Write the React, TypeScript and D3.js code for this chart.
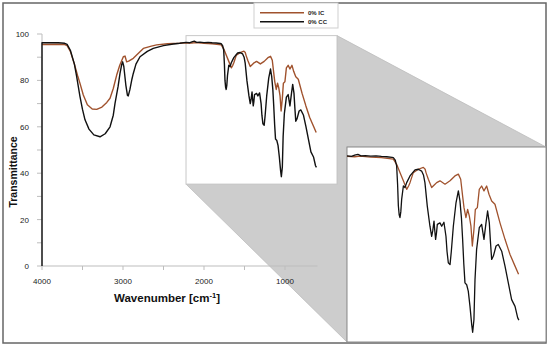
import React from "react";
import * as d3 from "d3";

// ---- data ----
const seriesNames = ["0% IC", "0% CC"];
const seriesColors = ["#a0522d", "#111111"];

const icWn = [4000, 3800, 3720, 3690, 3650, 3600, 3560, 3531, 3490, 3440, 3380, 3325, 3260, 3200, 3160, 3120, 3078, 3040, 2996, 2975, 2955, 2930, 2873, 2800, 2749, 2650, 2585, 2450, 2300, 2222, 2150, 2100, 2000, 1900, 1788, 1757, 1726, 1694, 1663, 1645, 1632, 1601, 1554, 1507, 1490, 1482, 1460, 1429, 1400, 1382, 1351, 1304, 1257, 1211, 1179, 1157, 1139, 1126, 1108, 1092, 1076, 1061, 1048, 1033, 1020, 1001, 983, 961, 939, 914, 892, 867, 836, 789, 742, 695, 648, 615];
const icT = [95.5, 95.6, 95.4, 95, 92.5, 87, 82, 78.7, 73.7, 69.5, 67.7, 67.5, 68.5, 70.5, 72.3, 76.5, 82.3, 86.5, 90.2, 90.5, 88, 88.3, 89.5, 92, 93.8, 94.8, 95.3, 95.8, 96, 96.2, 96.1, 96.3, 96, 95.8, 95.3, 93.6, 90.9, 88.2, 85.4, 86.5, 87.6, 90.9, 92, 92.6, 92, 90.9, 88.7, 86, 87, 87.6, 88.2, 87.1, 88.2, 89.8, 90.4, 88.7, 83.2, 79.4, 76.1, 78.8, 76.6, 73.3, 66.8, 72.2, 78.8, 79.4, 85.4, 86.5, 84.9, 86.5, 83.8, 81.6, 80.5, 74.4, 69, 64, 60.2, 57.5];

const ccWn = [4000, 4000, 3800, 3720, 3690, 3650, 3600, 3572, 3531, 3500, 3469, 3420, 3360, 3284, 3220, 3160, 3120, 3099, 3060, 3037, 3015, 3004, 2990, 2965, 2945, 2935, 2915, 2890, 2873, 2840, 2790, 2700, 2626, 2500, 2379, 2300, 2222, 2180, 2150, 2120, 2090, 2050, 2000, 1950, 1900, 1850, 1800, 1788, 1770, 1757, 1748, 1741, 1733, 1726, 1718, 1710, 1694, 1679, 1663, 1632, 1585, 1554, 1523, 1505, 1492, 1470, 1445, 1429, 1418, 1407, 1400, 1392, 1384, 1376, 1351, 1335, 1314, 1295, 1285, 1273, 1257, 1245, 1226, 1201, 1179, 1164, 1150, 1139, 1128, 1117, 1101, 1086, 1070, 1054, 1045, 1033, 1023, 1008, 983, 961, 939, 920, 905, 889, 878, 867, 851, 826, 805, 773, 742, 711, 680, 648, 623, 612];
const ccT = [0, 96.2, 96.2, 96, 95.5, 93, 87, 81.6, 73, 67.5, 63, 59, 56.5, 55.7, 57, 60, 65, 70, 77.5, 83, 87, 88, 86, 78, 73.5, 73.3, 76, 80.5, 83, 87, 90.2, 92.5, 93.8, 95, 95.7, 96, 96.4, 96.2, 96.6, 96.9, 96.4, 96.5, 96.3, 96.4, 96.2, 96.1, 95.9, 95.8, 95, 93.1, 87, 80, 77, 76.1, 78, 82.1, 86.5, 86, 87.6, 89.8, 91.8, 92, 91.4, 90, 87.6, 79.9, 73.3, 70, 72, 75, 72, 69, 71, 73.9, 74.4, 73.3, 74.6, 70, 65, 61.3, 60.7, 65, 73.3, 81, 84.9, 81.6, 76, 69, 61, 54.7, 54.1, 52, 47, 41, 38.5, 42.6, 55.8, 65.7, 72.8, 73.9, 69, 74.4, 78.3, 74.4, 68, 62.4, 63.5, 66.8, 67.3, 65.1, 60.2, 54.7, 49.2, 47, 43.2, 42.5];

const xTicks = [4000, 3500, 3000, 2500, 2000, 1500, 1000];
const xTickLabels = ["4000", "3000", "2000", "1000"];
const yTicks = [0, 10, 20, 30, 40, 50, 60, 70, 80, 90, 100];
const yTickLabels = ["0", "20", "40", "60", "80", "100"];

// zoomed window (in data units)
const zoomWn = [2222, 358];
const zoomT = [99.3, 35.3];

export default function App() {
  const W = 550, H = 347;
  const x = d3.scaleLinear().domain([4000, 600]).range([42, 317.4]);
  const y = d3.scaleLinear().domain([0, 100]).range([266, 34]);
  const px = d3.scaleLinear().domain(zoomWn).range([347, 546]);
  const py = d3.scaleLinear().domain(zoomT).range([147, 342]);

  const ic = icWn.map((w, i) => [w, icT[i]] as [number, number]);
  const cc = ccWn.map((w, i) => [w, ccT[i]] as [number, number]);
  const series = [ic, cc];

  const mainLine = d3.line<[number, number]>().x(d => x(d[0])).y(d => y(d[1]));
  const panelLine = d3.line<[number, number]>().x(d => px(d[0])).y(d => py(d[1]));

  const ix0 = x(zoomWn[0]), ix1 = x(zoomWn[1]);
  const iy0 = y(zoomT[0]), iy1 = y(zoomT[1]);
  const [pl, pr] = px.range();
  const [pt, pb] = py.range();
  const poly = [[ix1, iy0], [pr, pt], [pl, pt], [pl, pb], [ix0, iy1], [ix1, iy1]]
    .map(p => p.join(",")).join(" ");

  const font = "Arial, 'Liberation Sans', Helvetica, sans-serif";

  return (
    <svg width={W} height={H} style={{ position: "absolute", left: 0, top: 0, fontFamily: font }}>
      <defs>
        <clipPath id="panelClip">
          <rect x={pl} y={pt} width={pr - pl} height={pb - pt} />
        </clipPath>
      </defs>
      <rect x={0} y={0} width={W} height={H} fill="#fff" />
      <rect x={3} y={3} width={543} height={340} fill="#fff" stroke="#666" strokeWidth={1.5} />

      {/* projection */}
      <polygon points={poly} fill="#cdcdcd" stroke="#bdbdbd" strokeWidth={0.8} />
      {/* inset box */}
      <rect x={ix0} y={iy0} width={ix1 - ix0} height={iy1 - iy0} fill="#fff" stroke="#c8c8c8" strokeWidth={1} />

      {/* axes */}
      <line x1={x(4000)} x2={x(600)} y1={y(0)} y2={y(0)} stroke="#bdbdbd" strokeWidth={1} />
      <line x1={x(4000)} x2={x(4000)} y1={y(0)} y2={y(100)} stroke="#bdbdbd" strokeWidth={1} />
      {xTicks.map(t => (
        <line key={"xt" + t} x1={x(t)} x2={x(t)} y1={y(0)} y2={y(0) + 4} stroke="#bdbdbd" />
      ))}
      {xTickLabels.map(t => (
        <text key={"xl" + t} x={x(+t)} y={284} fontSize={8} textAnchor="middle" fill="#222">{t}</text>
      ))}
      {yTicks.map(t => (
        <line key={"yt" + t} x1={x(4000) - 5} x2={x(4000)} y1={y(t)} y2={y(t)} stroke="#bdbdbd" />
      ))}
      {yTickLabels.map(t => (
        <text key={"yl" + t} x={29} y={y(+t) + 3} fontSize={8} textAnchor="end" fill="#222">{t}</text>
      ))}
      <text x={167} y={302} fontSize={11.5} fontWeight="bold" textAnchor="middle" fill="#111">
        Wavenumber [cm<tspan dy={-4} fontSize={7.5}>-1</tspan><tspan dy={4}>]</tspan>
      </text>
      <text transform={`translate(16.5,172) rotate(-90)`} fontSize={10.5} fontWeight="bold" textAnchor="middle" fill="#111">Transmittance</text>

      {/* main curves */}
      {series.map((s, i) => (
        <path key={"m" + i} d={mainLine(s) || ""} fill="none" stroke={seriesColors[i]} strokeWidth={1.4} strokeLinejoin="round" />
      ))}

      {/* zoom panel */}
      <rect x={pl} y={pt} width={pr - pl} height={pb - pt} fill="#fff" stroke="#8a8a8a" strokeWidth={1} />
      <g clipPath="url(#panelClip)">
        {series.map((s, i) => (
          <path key={"p" + i} d={panelLine(s.filter(d => d[0] <= zoomWn[0] + 60)) || ""} fill="none" stroke={seriesColors[i]} strokeWidth={1.3} strokeLinejoin="round" />
        ))}
      </g>

      {/* legend */}
      <rect x={254} y={3} width={84} height={25} fill="#fff" stroke="#cfcfcf" strokeWidth={1} />
      {seriesNames.map((n, i) => (
        <g key={"lg" + i}>
          <line x1={260} x2={304} y1={12.7 + i * 9} y2={12.7 + i * 9} stroke={seriesColors[i]} strokeWidth={1.4} />
          <text x={308} y={15 + i * 9} fontSize={6} fontWeight="bold" fill="#222">{n}</text>
        </g>
      ))}
    </svg>
  );
}
